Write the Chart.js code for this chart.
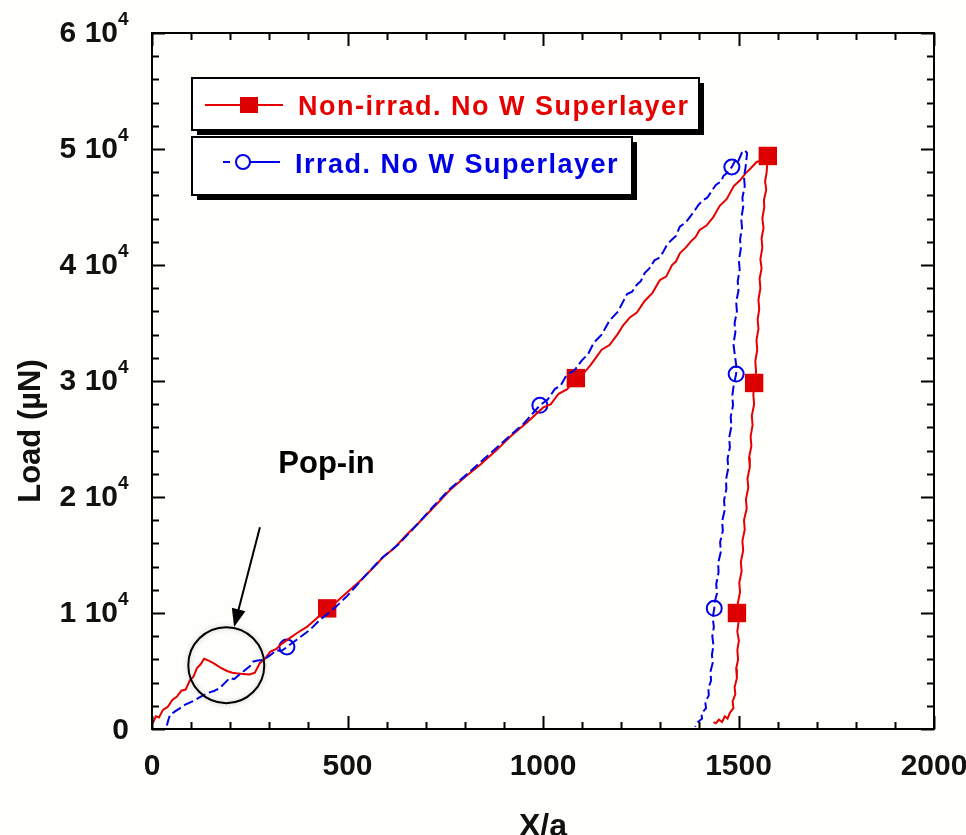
<!DOCTYPE html>
<html>
<head>
<meta charset="utf-8">
<title>Load vs X/a</title>
<script src="https://cdn.jsdelivr.net/npm/chart.js@4.4.1/dist/chart.umd.min.js"></script>
<style>
  body { margin: 0; background: #fefefa; }
  canvas { display: block; }
</style>
</head>
<body>
<canvas id="loadChart" width="966" height="835"></canvas>
<script>
// Non-irradiated sample, loading then unloading
const redX = [2, 10, 18, 28, 40, 52, 64, 75, 86, 97, 106, 115, 125, 133, 145, 156, 175, 192, 205, 215, 233, 250, 263, 270, 276, 290, 302, 318, 330, 353, 372, 396, 420, 448, 470, 500, 530, 560, 591, 620, 650, 680, 720, 762, 800, 840, 880, 916, 958,
  1000, 1020, 1040, 1062, 1084, 1102, 1120, 1135, 1150, 1170, 1190, 1205, 1223, 1240, 1260, 1280, 1299, 1315, 1330, 1340, 1350, 1365, 1380, 1390, 1400, 1418, 1435, 1452, 1470, 1488, 1504, 1518, 1530, 1547, 1560, 1575,
  1572, 1568, 1571, 1565, 1566, 1561, 1564, 1559, 1561, 1556, 1559, 1554, 1556, 1551, 1553, 1549, 1551, 1546, 1548, 1543, 1545, 1540, 1538, 1540, 1534, 1536, 1531, 1533, 1527, 1529, 1523, 1525, 1519, 1521, 1514, 1516, 1510, 1512, 1506, 1508, 1502, 1504, 1498, 1496,
  1500, 1497, 1501, 1497, 1499, 1494, 1496, 1490, 1492, 1485, 1487, 1478, 1472, 1465, 1458, 1450, 1442, 1436];
const redY = [500, 1100, 1000, 1650, 1900, 2500, 2800, 3300, 3400, 4200, 4500, 5250, 5600, 6050, 5900, 5700, 5300, 5000, 4850, 4800, 4750, 4700, 4850, 5300, 5700, 6100, 6650, 6900, 7300, 7850, 8300, 8800, 9500, 10400, 10900, 11800, 12700, 13700, 14800, 15600, 16700, 17700, 19100, 20600, 21700, 22800, 24000, 25200, 26400,
  27700, 28000, 28900, 29300, 30250, 30600, 31300, 32000, 32700, 33100, 34000, 34800, 35500, 35900, 36900, 37600, 38700, 39000, 40000, 40300, 41000, 41500, 42100, 42400, 43000, 43400, 44100, 45100, 45700, 46800, 47300, 47900, 48300, 48900, 49000, 49400,
  48000, 47200, 46500, 45600, 45000, 44000, 43200, 42300, 41500, 40500, 39700, 38800, 38000, 37000, 36200, 35300, 34500, 33500, 32700, 31700, 30800, 29830, 28800, 28000, 27000, 26200, 25200, 24400, 23400, 22600, 21600, 20800, 19800, 19000, 18000, 17200, 16200, 15400, 14400, 13600, 12600, 11800, 10800, 10000,
  9200, 8400, 7600, 6800, 6000, 5200, 4400, 3600, 3000, 2400, 1800, 1400, 900, 1100, 600, 800, 500, 600];

// Irradiated sample, loading then unloading
const blueX = [38, 42, 46, 58, 72, 85, 105, 125, 143, 160, 174, 187, 199, 210, 217, 235, 250, 258, 270, 284, 300, 319, 330, 345, 370, 404, 429, 460, 500, 545, 590, 630, 680, 720, 762, 800, 840, 880, 916, 950,
  992, 1012, 1030, 1045, 1060, 1080, 1100, 1115, 1130, 1150, 1170, 1192, 1215, 1228, 1240, 1250, 1260, 1272, 1285, 1296, 1307, 1318, 1330, 1340, 1350, 1366, 1384, 1398, 1410, 1420, 1430, 1442, 1455, 1462, 1470, 1483, 1490, 1495, 1500, 1509, 1516, 1522,
  1518, 1514, 1516, 1510, 1512, 1507, 1509, 1504, 1506, 1501, 1503, 1498, 1500, 1494, 1496, 1490, 1492, 1487, 1490, 1494, 1494, 1488, 1484, 1486, 1480, 1482, 1476, 1478, 1472, 1474, 1468, 1469, 1463, 1465, 1458, 1460, 1453, 1455, 1448, 1449, 1443, 1445, 1439, 1438,
  1434, 1437, 1433, 1436, 1432, 1434, 1428, 1430, 1423, 1424, 1415, 1417, 1405, 1407, 1396, 1389];
const blueY = [300, 800, 1200, 1500, 1800, 2100, 2400, 2800, 3100, 3300, 3550, 4000, 4400, 4300, 4500, 5000, 5400, 5800, 5900, 5950, 6300, 6800, 6700, 7070, 7700, 8550, 9400, 10200, 11500, 13200, 14800, 15900, 17700, 19200, 20700, 21800, 23000, 24200, 25300, 26300,
  27900, 28400, 29300, 29600, 30500, 30900, 31800, 32300, 33300, 34000, 35200, 36000, 37500, 37700, 38300, 38600, 39300, 39700, 40400, 40600, 41100, 41800, 42200, 42500, 43300, 43700, 44500, 45200, 45600, 45800, 46300, 46900, 47200, 47700, 47900, 48450, 48900, 49200, 49000, 49700, 49900, 49650,
  48400, 47600, 46800, 45800, 45000, 44000, 43200, 42200, 41400, 40400, 39600, 38600, 37800, 36800, 36000, 35000, 34200, 33200, 32400, 31400, 30600, 29700, 28700, 27900, 26900, 26100, 25100, 24300, 23300, 22500, 21500, 20700, 19700, 18900, 17900, 17100, 16100, 15300, 14300, 13500, 12500, 11700, 10900, 10400,
  9600, 8800, 8000, 7200, 6400, 5700, 4900, 4200, 3500, 2900, 2300, 1800, 1300, 900, 600, 200];

// symbol positions along each curve
const redMarkX = [448, 1084, 1575, 1540, 1496];
const redMarkY = [10400, 30250, 49400, 29830, 10000];
const blueMarkX = [345, 992, 1483, 1494, 1438];
const blueMarkY = [7070, 27900, 48450, 30600, 10400];

const xTicks = [0, 500, 1000, 1500, 2000];
const yTicks = [0, 10000, 20000, 30000, 40000, 50000, 60000];
const yTickLabels = ['0', '1 10', '2 10', '3 10', '4 10', '5 10', '6 10'];

const seriesNames = ['Non-irrad. No W Superlayer', 'Irrad. No W Superlayer'];

const FONT = '"Liberation Sans", Arial, sans-serif';
const RED = '#e60000';
const BLUE = '#0000e6';

function toPoints(xs, ys) {
  return xs.map((x, i) => ({ x: x, y: ys[i] }));
}

function legendBox(ctx, x, y, w, h) {
  ctx.fillStyle = '#000';
  ctx.fillRect(x + 5, y + 5, w, h);
  ctx.fillStyle = '#fff';
  ctx.fillRect(x, y, w, h);
  ctx.lineWidth = 2;
  ctx.strokeStyle = '#000';
  ctx.strokeRect(x, y, w, h);
}

const decorPlugin = {
  id: 'decor',
  beforeDraw(chart) {
    const ctx = chart.ctx;
    ctx.save();
    ctx.fillStyle = '#fefefa';
    ctx.fillRect(0, 0, chart.width, chart.height);
    ctx.restore();
  },
  afterDraw(chart) {
    const ctx = chart.ctx;
    const area = chart.chartArea;
    const xs = chart.scales.x;
    const ys = chart.scales.y;
    ctx.save();

    // frame
    ctx.strokeStyle = '#000';
    ctx.lineWidth = 2;
    ctx.strokeRect(area.left, area.top, area.right - area.left, area.bottom - area.top);

    // inward ticks on all four sides
    ctx.beginPath();
    for (let v = 0; v <= 2000; v += 100) {
      const px = Math.round(xs.getPixelForValue(v)) + 0.5;
      const len = v % 500 === 0 ? 13 : 7;
      ctx.moveTo(px, area.bottom); ctx.lineTo(px, area.bottom - len);
      ctx.moveTo(px, area.top); ctx.lineTo(px, area.top + len);
    }
    for (let v = 0; v <= 60000; v += 2000) {
      const py = Math.round(ys.getPixelForValue(v)) + 0.5;
      const len = v % 10000 === 0 ? 13 : 7;
      ctx.moveTo(area.left, py); ctx.lineTo(area.left + len, py);
      ctx.moveTo(area.right, py); ctx.lineTo(area.right - len, py);
    }
    ctx.stroke();

    // tick labels
    ctx.fillStyle = '#111';
    ctx.font = 'bold 30px ' + FONT;
    ctx.textAlign = 'center';
    ctx.textBaseline = 'alphabetic';
    xTicks.forEach(v => ctx.fillText(String(v), xs.getPixelForValue(v), 775));

    yTicks.forEach((v, i) => {
      const py = ys.getPixelForValue(v);
      ctx.textAlign = 'right';
      if (v === 0) {
        ctx.font = 'bold 30px ' + FONT;
        ctx.fillText(yTickLabels[i], 129, py + 10);
      } else {
        ctx.font = 'bold 30px ' + FONT;
        ctx.fillText(yTickLabels[i], 118, py + 9);
        ctx.font = 'bold 19px ' + FONT;
        ctx.textAlign = 'left';
        ctx.fillText('4', 118, py - 8);
      }
    });

    // axis titles
    ctx.font = 'bold 32px ' + FONT;
    ctx.textAlign = 'center';
    ctx.textBaseline = 'top';
    ctx.fillText('X/a', (area.left + area.right) / 2, 811);

    ctx.save();
    ctx.translate(40, (area.top + area.bottom) / 2 + 50);
    ctx.rotate(-Math.PI / 2);
    ctx.font = 'bold 31px ' + FONT;
    ctx.textBaseline = 'alphabetic';
    ctx.fillText('Load (\u00B5N)', 0, 0);
    ctx.restore();

    // pop-in callout
    const cx = xs.getPixelForValue(190);
    const cy = ys.getPixelForValue(5500);
    ctx.save();
    ctx.shadowColor = 'rgba(0,0,0,0.25)';
    ctx.shadowBlur = 5;
    ctx.lineWidth = 2;
    ctx.beginPath();
    ctx.arc(cx, cy, 38, 0, Math.PI * 2);
    ctx.stroke();
    ctx.restore();

    const ax0 = xs.getPixelForValue(276), ay0 = ys.getPixelForValue(17400);
    const ax1 = xs.getPixelForValue(210), ay1 = ys.getPixelForValue(8800);
    const ang = Math.atan2(ay1 - ay0, ax1 - ax0);
    ctx.lineWidth = 2;
    ctx.beginPath();
    ctx.moveTo(ax0, ay0);
    ctx.lineTo(ax1 - 14 * Math.cos(ang), ay1 - 14 * Math.sin(ang));
    ctx.stroke();
    ctx.beginPath();
    ctx.moveTo(ax1, ay1);
    ctx.lineTo(ax1 - 18 * Math.cos(ang) + 7 * Math.sin(ang), ay1 - 18 * Math.sin(ang) - 7 * Math.cos(ang));
    ctx.lineTo(ax1 - 18 * Math.cos(ang) - 7 * Math.sin(ang), ay1 - 18 * Math.sin(ang) + 7 * Math.cos(ang));
    ctx.closePath();
    ctx.fillStyle = '#000';
    ctx.fill();

    ctx.fillStyle = '#000';
    ctx.font = 'bold 31px ' + FONT;
    ctx.textAlign = 'left';
    ctx.textBaseline = 'alphabetic';
    ctx.fillText('Pop-in', xs.getPixelForValue(323), ys.getPixelForValue(22100));

    // legend
    const lx = area.left + 40;
    const ly = area.top + 45;
    legendBox(ctx, lx, ly, 507, 52);
    legendBox(ctx, lx, ly + 59, 440, 58);

    ctx.lineWidth = 2;
    ctx.strokeStyle = RED;
    ctx.beginPath();
    ctx.moveTo(lx + 13, ly + 27); ctx.lineTo(lx + 91, ly + 27);
    ctx.stroke();
    ctx.fillStyle = '#dd0000';
    ctx.fillRect(lx + 48, ly + 19, 18, 16);

    ctx.strokeStyle = BLUE;
    ctx.beginPath();
    ctx.moveTo(lx + 31, ly + 84); ctx.lineTo(lx + 38, ly + 84);
    ctx.moveTo(lx + 44, ly + 84); ctx.lineTo(lx + 88, ly + 84);
    ctx.stroke();
    ctx.fillStyle = '#fff';
    ctx.beginPath();
    ctx.arc(lx + 51, ly + 84, 7, 0, Math.PI * 2);
    ctx.fill();
    ctx.stroke();

    ctx.font = 'bold 27px ' + FONT;
    ctx.letterSpacing = '1.5px';
    ctx.textAlign = 'left';
    ctx.fillStyle = RED;
    ctx.fillText(seriesNames[0], lx + 106, ly + 37);
    ctx.fillStyle = BLUE;
    ctx.fillText(seriesNames[1], lx + 103, ly + 95);
    ctx.letterSpacing = '0px';

    ctx.restore();
  }
};

const chart = new Chart(document.getElementById('loadChart'), {
  type: 'scatter',
  data: {
    datasets: [
      {
        label: seriesNames[1],
        data: toPoints(blueX, blueY),
        showLine: true,
        borderColor: BLUE,
        borderWidth: 2,
        borderDash: [10, 4],
        pointRadius: 0,
        tension: 0
      },
      {
        label: seriesNames[0],
        data: toPoints(redX, redY),
        showLine: true,
        borderColor: RED,
        borderWidth: 2,
        pointRadius: 0,
        tension: 0
      },
      {
        label: 'blue symbols',
        data: toPoints(blueMarkX, blueMarkY),
        showLine: false,
        pointStyle: 'circle',
        pointRadius: 7.5,
        borderWidth: 2,
        borderColor: BLUE,
        backgroundColor: 'rgba(0,0,0,0)'
      },
      {
        label: 'red symbols',
        data: toPoints(redMarkX, redMarkY),
        showLine: false,
        pointStyle: 'rect',
        pointRadius: 13,
        borderWidth: 0,
        borderColor: '#dd0000',
        backgroundColor: '#dd0000'
      }
    ]
  },
  options: {
    responsive: false,
    animation: false,
    devicePixelRatio: 1,
    layout: { padding: { left: 152, top: 33, right: 32, bottom: 106 } },
    scales: {
      x: { type: 'linear', min: 0, max: 2000, display: false },
      y: { type: 'linear', min: 0, max: 60000, display: false }
    },
    plugins: {
      legend: { display: false },
      tooltip: { enabled: false }
    }
  },
  plugins: [decorPlugin]
});
</script>
</body>
</html>
